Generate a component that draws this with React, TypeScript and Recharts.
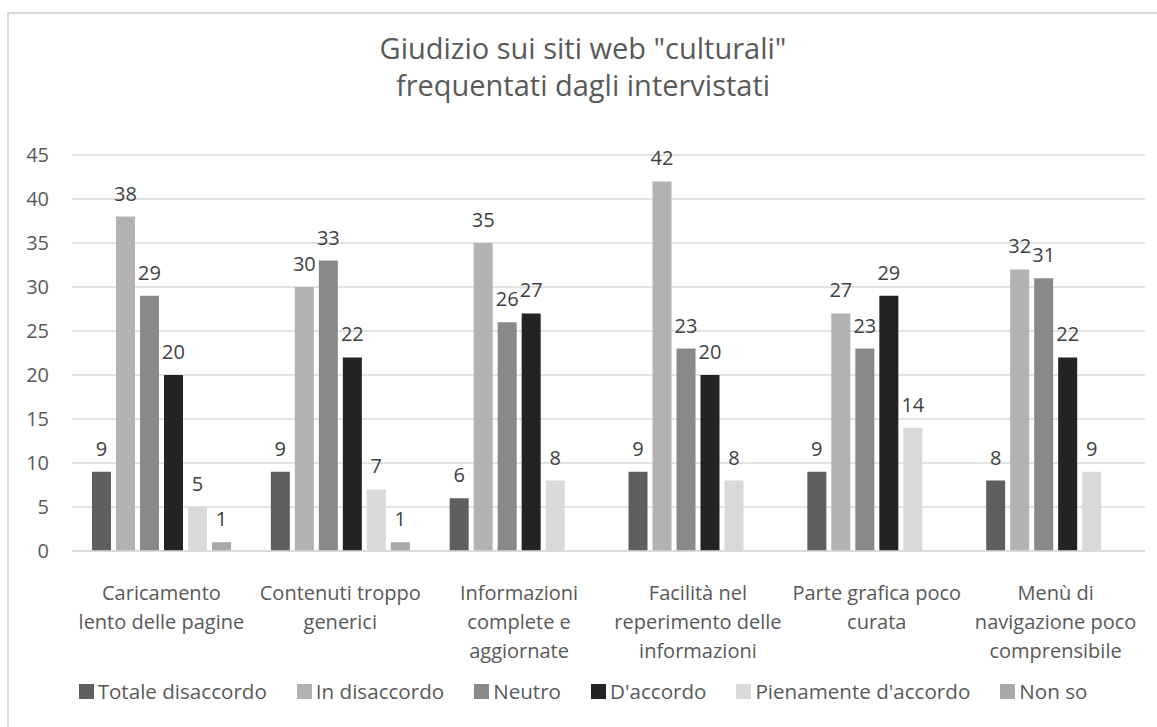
import React from 'react'
import { BarChart, Bar, XAxis, YAxis, CartesianGrid, LabelList } from 'recharts'

const categories = [
    'Caricamento\nlento delle pagine',
    'Contenuti troppo\ngenerici',
    'Informazioni\ncomplete e\naggiornate',
    'Facilità nel\nreperimento delle\ninformazioni',
    'Parte grafica poco\ncurata',
    'Menù di\nnavigazione poco\ncomprensibile',
]

const totaleDisaccordo = [9, 9, 6, 9, 9, 8]
const inDisaccordo = [38, 30, 35, 42, 27, 32]
const neutro = [29, 33, 26, 23, 23, 31]
const dAccordo = [20, 22, 27, 20, 29, 22]
const pienamenteDAccordo = [5, 7, 8, 8, 14, 9]
const nonSo = [1, 1, 0, 0, 0, 0]

const yTicks = [0, 5, 10, 15, 20, 25, 30, 35, 40, 45]

const series = [
    { key: 'td', name: 'Totale disaccordo', values: totaleDisaccordo, color: '#5f5f5f' },
    { key: 'id', name: 'In disaccordo', values: inDisaccordo, color: '#b2b2b2' },
    { key: 'ne', name: 'Neutro', values: neutro, color: '#898989' },
    { key: 'da', name: "D'accordo", values: dAccordo, color: '#232323' },
    { key: 'pd', name: "Pienamente d'accordo", values: pienamenteDAccordo, color: '#d9d9d9' },
    { key: 'ns', name: 'Non so', values: nonSo, color: '#a9a9a9' },
]

const data = categories.map((cat, i) => {
    const row: Record<string, string | number> = { cat }
    series.forEach(s => { row[s.key] = s.values[i] })
    return row
})

const FONT = '"Open Sans", sans-serif'
const TEXT = '#595959'

// multi-line category labels under the axis
const CategoryTick = (props: any) => {
    const { x, y, payload } = props
    const lines = String(payload.value).split('\n')
    return (
        <text x={x} y={y + 41} textAnchor="middle" fill={TEXT} fontSize={20} fontFamily={FONT}>
            {lines.map((l, i) => (
                <tspan key={i} x={x} dy={i === 0 ? 0 : 29}>{l}</tspan>
            ))}
        </text>
    )
}

export default function App() {
    return (
        <div style={{ position: 'absolute', left: 0, top: 0, width: 1157, height: 727, background: '#fff', overflow: 'hidden' }}>
            <div style={{ position: 'absolute', left: 7, top: 12, width: 1170, height: 740, border: '2px solid #d9d9d9' }} />
            <div style={{ position: 'absolute', left: 0, top: 29, width: 1166, textAlign: 'center', fontFamily: FONT, fontSize: 29, color: TEXT, lineHeight: '37px' }}>
                Giudizio sui siti web "culturali"<br />frequentati dagli intervistati
            </div>
            <BarChart
                width={1157}
                height={727}
                data={data}
                margin={{ top: 155, right: 12, left: 0, bottom: 0 }}
                barSize={19}
                barGap={5}
                style={{ position: 'absolute', left: 0, top: 0 }}
            >
                <CartesianGrid vertical={false} stroke="#d9d9d9" strokeWidth={1.5} />
                <XAxis
                    dataKey="cat"
                    tick={<CategoryTick />}
                    tickLine={false}
                    axisLine={{ stroke: '#d9d9d9', strokeWidth: 1.5 }}
                    interval={0}
                    height={176}
                />
                <YAxis
                    domain={[0, 45]}
                    ticks={yTicks}
                    interval={0}
                    width={72}
                    tickSize={0}
                    tickMargin={23}
                    tickLine={false}
                    axisLine={false}
                    tick={{ fill: TEXT, fontSize: 20, fontFamily: FONT }}
                />
                {series.map(s => (
                    <Bar key={s.key} dataKey={s.key} name={s.name} fill={s.color} isAnimationActive={false}>
                        <LabelList dataKey={s.key} position="top" offset={16} fill="#404040" fontSize={20} fontFamily={FONT} />
                    </Bar>
                ))}
            </BarChart>
            <div style={{ position: 'absolute', left: 0, top: 678, width: 1166, display: 'flex', justifyContent: 'center', gap: 30, fontFamily: FONT, fontSize: 20.6, color: TEXT, lineHeight: '27px' }}>
                {series.map(s => (
                    <div key={s.key} style={{ display: 'flex', alignItems: 'center', gap: 4 }}>
                        <span style={{ width: 15, height: 15, background: s.color, display: 'inline-block' }} />
                        <span>{s.name}</span>
                    </div>
                ))}
            </div>
        </div>
    )
}
